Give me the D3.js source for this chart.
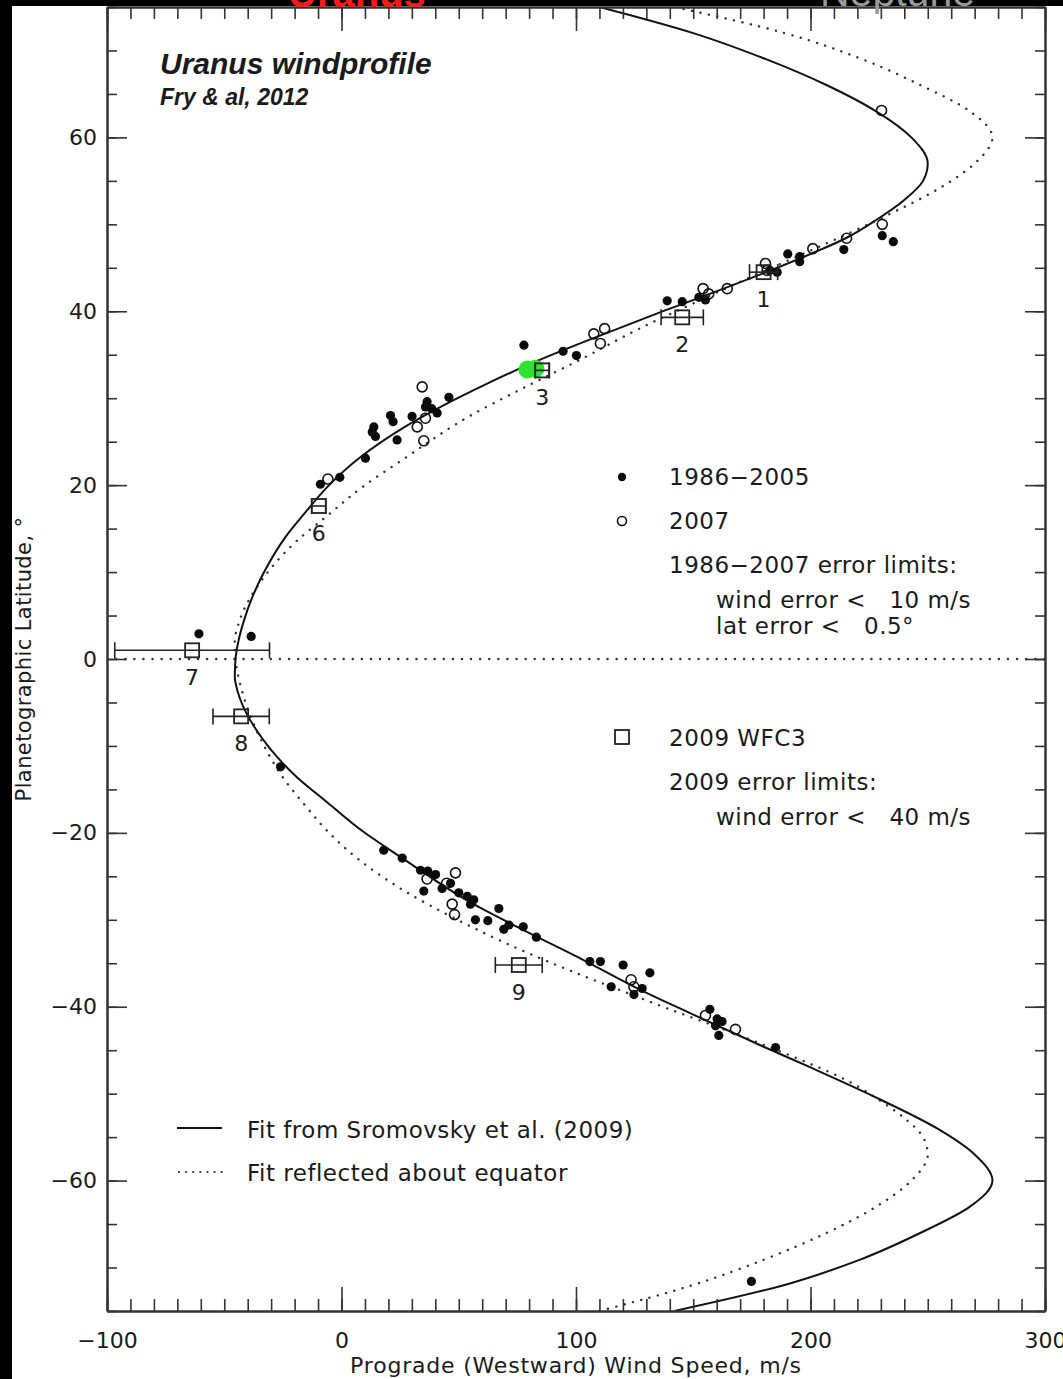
<!DOCTYPE html>
<html>
<head>
<meta charset="utf-8">
<script src="https://cdn.jsdelivr.net/npm/d3@7"></script>
<style>
  body { margin: 0; background: #fff; }
  text { fill: #1a1a1a; }
</style>
</head>
<body>
<div id="chart"></div>
<script>
// fit from Sromovsky et al. (2009) (lat deg, wind m/s)
var fitLat  = [75, 72, 69, 66, 63, 60, 57, 55, 52.8, 50.5, 48.4, 46.7, 44.7, 42.2, 40.1, 37.8, 35.9, 34, 31.8, 29.8, 26.7, 23.2, 19.8, 17, 14, 10, 6.8, 4.5, 2, 0, -2, -4.4, -8.5, -13.6, -16.5, -19.7, -23.1, -28, -31.1, -34.6, -38, -40.9, -44.6, -47.1, -50.7, -54, -57, -60, -63, -66, -69, -72, -75];
var fitWind = [110, 150, 181, 207, 228, 243, 250, 248, 240, 228, 215, 201, 183, 159, 138, 116, 98, 81, 63, 48, 27, 8, -6, -15, -24, -33, -38.5, -41.5, -44, -45.2, -45.5, -43.5, -35.5, -19, -6, 8.5, 27, 55, 77, 103, 127, 150, 180, 201, 230, 254, 270, 277.6, 268, 247, 222, 189, 142];

// 1986-2005 observations
var obsAWind = [77.8, 94.5, 100.2, 45.8, 36.5, 35.8, 38.5, 40.8, 30.1, 20.9, 22.0, 13.8, 13.1, 14.5, 23.7, 10.2, -0.7, -9.0,
  138.9, 145.3, 152.4, 155.2, 182.6, 185.8, 190.3, 195.4, 195.4, 214.2, 230.6, 235.3,
  -60.8, -38.5, -26.0,
  18.0, 25.9, 33.7, 36.8, 40.1, 35.1, 42.9, 46.5, 50.0, 53.6, 56.4, 55.0, 67.1, 57.1, 62.4, 71.4, 69.2, 77.5, 83.1,
  105.9, 110.4, 120.1, 131.5, 115.0, 128.2, 124.7, 157.1, 160.2, 162.3, 159.5, 160.9, 185.1, 174.8];
var obsALat  = [36.1, 35.4, 34.9, 30.1, 29.6, 29.0, 28.8, 28.3, 27.9, 28.0, 27.3, 26.7, 26.1, 25.6, 25.2, 23.1, 20.9, 20.1,
  41.2, 41.1, 41.6, 41.3, 44.7, 44.5, 46.6, 46.3, 45.7, 47.1, 48.7, 48.0,
  2.9, 2.6, -12.4,
  -22.0, -22.9, -24.3, -24.4, -24.8, -26.7, -26.4, -25.8, -26.9, -27.3, -27.7, -28.2, -28.7, -30.0, -30.1, -30.6, -31.1, -30.8, -32.0,
  -34.8, -34.8, -35.2, -36.1, -37.7, -37.9, -38.6, -40.3, -41.4, -41.7, -42.2, -43.3, -44.7, -71.6];

// 2007 observations
var obsBWind = [230.3, 34.4, 35.8, 32.3, 35.1, -5.8, 107.6, 112.2, 110.4, 154.2, 156.6, 164.5, 180.8, 181.5, 201.0, 215.4, 230.6,
  48.6, 36.5, 44.8, 47.2, 48.2, 123.5, 124.7, 155.2, 168.0];
var obsBLat  = [63.1, 31.3, 27.7, 26.7, 25.1, 20.7, 37.4, 38.0, 36.3, 42.6, 42.0, 42.6, 45.5, 44.7, 47.2, 48.4, 50.0,
  -24.6, -25.3, -25.8, -28.2, -29.4, -36.9, -37.7, -41.0, -42.6];

// 2009 WFC3 features
var wfcLabel = ["1", "2", "3", "6", "7", "8", "9"];
var wfcWind  = [180, 145.3, 85.6, -9.7, -63.7, -42.8, 75.6];
var wfcLat   = [44.5, 39.3, 33.2, 17.6, 1.0, -6.6, -35.2];
var wfcErr   = [6, 9, 3, 3, 33, 12, 10];

// green highlight
var greenWind = [79.3, 82.7];
var greenLat  = [33.3, 33.4];

var xTicks = [-100, 0, 100, 200, 300];
var yTicks = [-60, -40, -20, 0, 20, 40, 60];

var svgWidth = 1063, svgHeight = 1379;
var plotLeft = 107, plotRight = 1045, plotTop = 7, plotBottom = 1311;
var font = "DejaVu Sans";
var nb = "\u00a0";

var svg = d3.select("#chart").append("svg")
  .attr("width", svgWidth)
  .attr("height", svgHeight);

svg.append("rect").attr("width", svgWidth).attr("height", svgHeight).attr("fill", "#fff");

var x = d3.scaleLinear().domain([-100, 300]).range([plotLeft, plotRight]);
var y = d3.scaleLinear().domain([-75, 75]).range([plotBottom, plotTop]);

svg.append("clipPath").attr("id", "plot")
  .append("rect").attr("x", plotLeft).attr("y", plotTop)
  .attr("width", plotRight - plotLeft).attr("height", plotBottom - plotTop);

var plot = svg.append("g").attr("clip-path", "url(#plot)");

// equator
plot.append("line")
  .attr("x1", x(-100)).attr("x2", x(300))
  .attr("y1", y(0)).attr("y2", y(0))
  .attr("stroke", "#333").attr("stroke-width", 2.4)
  .attr("stroke-linecap", "round").attr("stroke-dasharray", "0.1,9");

var fit = fitLat.map(function(d, i) { return {lat: d, wind: fitWind[i]}; });

var line = d3.line()
  .x(function(d) { return x(d.wind); })
  .y(function(d) { return y(d.lat); })
  .curve(d3.curveMonotoneY);

var lineMirror = d3.line()
  .x(function(d) { return x(d.wind); })
  .y(function(d) { return y(-d.lat); })
  .curve(d3.curveMonotoneY);

plot.append("path").datum(fit)
  .attr("d", lineMirror)
  .attr("fill", "none").attr("stroke", "#333").attr("stroke-width", 2.4)
  .attr("stroke-linecap", "round").attr("stroke-dasharray", "0.1,8.5");

plot.append("path").datum(fit)
  .attr("d", line)
  .attr("fill", "none").attr("stroke", "#111").attr("stroke-width", 2);

// 2007 open circles
plot.selectAll(".obsB").data(obsBWind).enter().append("circle")
  .attr("class", "obsB")
  .attr("cx", function(d) { return x(d); })
  .attr("cy", function(d, i) { return y(obsBLat[i]); })
  .attr("r", 5)
  .attr("fill", "none").attr("stroke", "#111").attr("stroke-width", 1.6);

// 1986-2005 filled dots
plot.selectAll(".obsA").data(obsAWind).enter().append("circle")
  .attr("class", "obsA")
  .attr("cx", function(d) { return x(d); })
  .attr("cy", function(d, i) { return y(obsALat[i]); })
  .attr("r", 4.6)
  .attr("fill", "#0a0a0a");

// green highlight
plot.selectAll(".green").data(greenWind).enter().append("circle")
  .attr("cx", function(d) { return x(d); })
  .attr("cy", function(d, i) { return y(greenLat[i]); })
  .attr("r", 9)
  .attr("fill", "#2fe22f");

// WFC3 squares with error bars
var wfc = plot.selectAll(".wfc").data(wfcWind).enter().append("g").attr("class", "wfc");
wfc.append("line")
  .attr("x1", function(d, i) { return x(d - wfcErr[i]); })
  .attr("x2", function(d, i) { return x(d + wfcErr[i]); })
  .attr("y1", function(d, i) { return y(wfcLat[i]); })
  .attr("y2", function(d, i) { return y(wfcLat[i]); })
  .attr("stroke", "#222").attr("stroke-width", 1.6);
[-1, 1].forEach(function(s) {
  wfc.append("line")
    .attr("x1", function(d, i) { return x(d + s * wfcErr[i]); })
    .attr("x2", function(d, i) { return x(d + s * wfcErr[i]); })
    .attr("y1", function(d, i) { return y(wfcLat[i]) - 8; })
    .attr("y2", function(d, i) { return y(wfcLat[i]) + 8; })
    .attr("stroke", "#222").attr("stroke-width", 1.6);
});
wfc.append("rect")
  .attr("x", function(d) { return x(d) - 7; })
  .attr("y", function(d, i) { return y(wfcLat[i]) - 7; })
  .attr("width", 14).attr("height", 14)
  .attr("fill", "none").attr("stroke", "#222").attr("stroke-width", 1.8);
wfc.append("text")
  .attr("x", function(d) { return x(d); })
  .attr("y", function(d, i) { return y(wfcLat[i]) + 35; })
  .attr("text-anchor", "middle")
  .attr("font-family", font).attr("font-size", 22)
  .text(function(d, i) { return wfcLabel[i]; });

// axes
function styleAxis(g) {
  g.select(".domain").attr("stroke", "#333").attr("stroke-width", 2);
  g.selectAll(".tick line").attr("stroke", "#333").attr("stroke-width", 1.6);
  g.selectAll("text").attr("font-family", font).attr("font-size", 22).attr("fill", "#1a1a1a");
}

svg.append("g").attr("transform", "translate(0," + plotBottom + ")")
  .call(d3.axisBottom(x).tickValues(d3.range(-100, 301, 10)).tickSize(-12).tickSizeOuter(0).tickFormat(""))
  .call(styleAxis);
svg.append("g").attr("transform", "translate(0," + plotBottom + ")")
  .call(d3.axisBottom(x).tickValues(xTicks).tickSize(-24).tickSizeOuter(0).tickPadding(21))
  .call(styleAxis);
svg.append("g").attr("transform", "translate(0," + plotTop + ")")
  .call(d3.axisTop(x).tickValues(d3.range(-100, 301, 10)).tickSize(-12).tickSizeOuter(0).tickFormat(""))
  .call(styleAxis);
svg.append("g").attr("transform", "translate(0," + plotTop + ")")
  .call(d3.axisTop(x).tickValues(xTicks).tickSize(-24).tickSizeOuter(0).tickFormat(""))
  .call(styleAxis);

svg.append("g").attr("transform", "translate(" + plotLeft + ",0)")
  .call(d3.axisLeft(y).tickValues(d3.range(-75, 76, 5)).tickSize(-10).tickSizeOuter(0).tickFormat(""))
  .call(styleAxis);
svg.append("g").attr("transform", "translate(" + plotLeft + ",0)")
  .call(d3.axisLeft(y).tickValues(yTicks).tickSize(-20).tickSizeOuter(0).tickPadding(10))
  .call(styleAxis);
svg.append("g").attr("transform", "translate(" + plotRight + ",0)")
  .call(d3.axisRight(y).tickValues(d3.range(-75, 76, 5)).tickSize(-10).tickSizeOuter(0).tickFormat(""))
  .call(styleAxis);
svg.append("g").attr("transform", "translate(" + plotRight + ",0)")
  .call(d3.axisRight(y).tickValues(yTicks).tickSize(-20).tickSizeOuter(0).tickFormat(""))
  .call(styleAxis);

// axis titles
svg.append("text")
  .attr("x", (plotLeft + plotRight) / 2).attr("y", 1373)
  .attr("text-anchor", "middle")
  .attr("font-family", font).attr("font-size", 22).attr("letter-spacing", 0.8)
  .text("Prograde (Westward) Wind Speed, m/s");

svg.append("text")
  .attr("transform", "translate(31," + y(0) + ") rotate(-90)")
  .attr("text-anchor", "middle")
  .attr("font-family", font).attr("font-size", 21).attr("letter-spacing", 0.4)
  .text("Planetographic Latitude," + nb + "°");

// title
svg.append("text")
  .attr("x", 160).attr("y", 74)
  .attr("font-family", "Liberation Sans").attr("font-weight", "bold").attr("font-style", "italic")
  .attr("font-size", 30)
  .text("Uranus windprofile");
svg.append("text")
  .attr("x", 160).attr("y", 105)
  .attr("font-family", "Liberation Sans").attr("font-weight", "bold").attr("font-style", "italic")
  .attr("font-size", 23)
  .text("Fry & al, 2012");

// legend (right)
var legend = svg.append("g")
  .attr("font-family", font).attr("font-size", 23).attr("letter-spacing", 0.5);

legend.append("circle").attr("cx", 622).attr("cy", 477).attr("r", 4.2).attr("fill", "#0a0a0a");
legend.append("circle").attr("cx", 622).attr("cy", 521).attr("r", 4.5)
  .attr("fill", "none").attr("stroke", "#111").attr("stroke-width", 1.6);
legend.append("rect").attr("x", 615).attr("y", 730).attr("width", 14).attr("height", 14)
  .attr("fill", "none").attr("stroke", "#222").attr("stroke-width", 1.8);

var legendText = [
  [669, 485, "1986\u22122005"],
  [669, 529, "2007"],
  [669, 573, "1986\u22122007 error limits:"],
  [716, 608, "wind error <" + nb + nb + nb + "10 m/s"],
  [716, 634, "lat error <" + nb + nb + nb + "0.5°"],
  [669, 746, "2009 WFC3"],
  [669, 790, "2009 error limits:"],
  [716, 825, "wind error <" + nb + nb + nb + "40 m/s"],
  [247, 1138, "Fit from Sromovsky et al. (2009)"],
  [247, 1181, "Fit reflected about equator"]
];
legend.selectAll(".lt").data(legendText).enter().append("text")
  .attr("x", function(d) { return d[0]; })
  .attr("y", function(d) { return d[1]; })
  .text(function(d) { return d[2]; });

legend.append("line").attr("x1", 177).attr("x2", 222).attr("y1", 1128).attr("y2", 1128)
  .attr("stroke", "#111").attr("stroke-width", 2);
legend.append("line").attr("x1", 179).attr("x2", 222).attr("y1", 1172).attr("y2", 1172)
  .attr("stroke", "#333").attr("stroke-width", 2.2)
  .attr("stroke-linecap", "round").attr("stroke-dasharray", "0.1,7");

// slide frame bits
svg.append("rect").attr("x", 0).attr("y", 0).attr("width", svgWidth).attr("height", 6).attr("fill", "#000");
svg.append("rect").attr("x", 0).attr("y", 0).attr("width", 12).attr("height", svgHeight).attr("fill", "#000");

svg.append("text")
  .attr("x", 288).attr("y", 7)
  .attr("font-family", "Liberation Sans").attr("font-weight", "bold").attr("font-size", 40)
  .style("fill", "#ff1a1a")
  .text("Uranus");
svg.append("text")
  .attr("x", 820).attr("y", 6)
  .attr("font-family", "Liberation Sans").attr("font-size", 41)
  .style("fill", "#9a9a9a")
  .text("Neptune");
</script>
</body>
</html>
